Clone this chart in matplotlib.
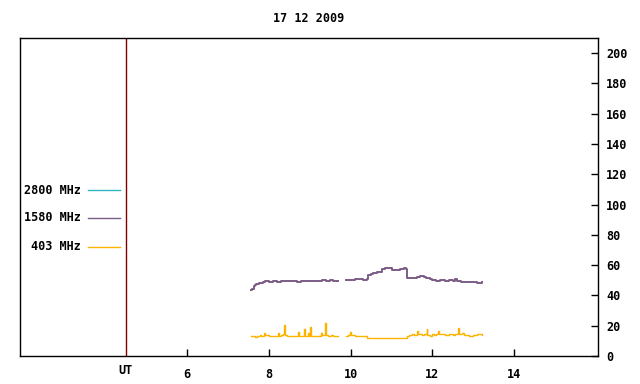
import matplotlib
matplotlib.use("Agg")
import matplotlib.pyplot as plt
import matplotlib.transforms as mtransforms
import numpy as np

plt.rcParams['font.family'] = ['DejaVu Sans Mono']
plt.rcParams['font.weight'] = 'bold'
plt.rcParams['font.size'] = 8.5

title = "17 12 2009"
labels = ["2800 MHz", "1580 MHz", "403 MHz"]
colors = ["#30b4c2", "#7b5c86", "#fbb400"]

# 1580 MHz (two segments, nan = gap)
t1580 = [7.57, 7.60, 7.63, 7.66, 7.70, 7.75, 7.80, 7.85, 7.90, 8.00, 8.10, 8.20,
         8.30, 8.40, 8.50, 8.60, 8.70, 8.80, 8.90, 9.00, 9.10, 9.20, 9.30, 9.40,
         9.50, 9.57, 9.70,
         9.89, 9.95, 10.00, 10.10, 10.20, 10.30, 10.40, 10.42, 10.50, 10.55, 10.60,
         10.65, 10.70, 10.77, 10.85, 10.95, 11.02, 11.10, 11.20, 11.30, 11.36, 11.38,
         11.45, 11.55, 11.63, 11.70, 11.80, 11.85, 11.95, 12.00, 12.10, 12.20, 12.30,
         12.40, 12.50, 12.56, 12.60, 12.70, 12.80, 12.90, 13.00, 13.10, 13.22]
v1580 = [43.5, 44.5, 46.0, 47.0, 47.5, 48.0, 48.5, 49.0, 49.3, 49.0, 49.5, 49.0,
         49.4, 49.8, 49.2, 49.5, 49.0, 49.6, 49.8, 49.5, 49.8, 49.6, 49.9, 49.7,
         49.9, 49.8, np.nan,
         50.2, 50.5, 50.3, 50.6, 50.8, 50.5, 51.0, 53.5, 54.0, 54.7, 54.7,
         55.5, 55.8, 57.5, 57.8, 57.8, 57.0, 56.8, 57.4, 57.8, 57.4, 51.5,
         51.2, 51.3, 52.3, 52.6, 52.0, 51.6, 51.0, 50.0, 49.8, 50.2, 49.7,
         50.0, 49.8, 50.8, 49.2, 48.7, 48.6, 48.8, 48.6, 48.4, 48.8]

# 403 MHz
t403 = [7.57, 7.62, 7.66, 7.72, 7.78, 7.82, 7.89, 7.91, 7.95, 8.00, 8.05, 8.10,
        8.15, 8.23, 8.25, 8.30, 8.36, 8.38, 8.40, 8.45, 8.50, 8.60, 8.70, 8.72,
        8.74, 8.80, 8.86, 8.88, 8.92, 8.96, 8.98, 9.01, 9.03, 9.10, 9.20, 9.28,
        9.30, 9.38, 9.40, 9.45, 9.50, 9.53, 9.57, 9.70,
        9.89, 9.95, 9.99, 10.01, 10.10, 10.20, 10.30, 10.36, 10.40, 10.50, 10.60,
        10.70, 10.80, 10.90, 11.00, 11.10, 11.20, 11.30, 11.38, 11.42, 11.50, 11.55,
        11.62, 11.64, 11.70, 11.75, 11.80, 11.86, 11.88, 11.95, 12.00, 12.05, 12.10,
        12.15, 12.17, 12.25, 12.30, 12.40, 12.50, 12.55, 12.64, 12.66, 12.72, 12.78,
        12.85, 12.90, 13.00, 13.10, 13.22]
v403 = [13.3, 13.0, 12.4, 13.0, 13.6, 13.2, 15.0, 13.8, 14.0, 13.4, 13.0, 13.5,
        13.2, 15.0, 13.3, 13.6, 14.2, 20.5, 14.0, 13.5, 13.2, 13.3, 13.4, 16.0,
        13.4, 13.3, 17.9, 13.2, 13.4, 15.5, 13.3, 19.2, 13.5, 13.5, 13.5, 15.2,
        13.6, 21.9, 13.6, 13.0, 13.0, 13.6, 13.5, np.nan,
        13.5, 13.8, 15.7, 13.6, 13.5, 13.5, 13.2, 13.0, 11.7, 11.8, 11.7,
        12.1, 11.7, 11.9, 11.7, 11.8, 11.7, 11.7, 13.2, 13.9, 14.2, 13.8,
        16.5, 14.2, 14.5, 13.8, 14.2, 17.9, 14.0, 13.5, 14.4, 14.0, 14.6,
        16.5, 14.2, 14.5, 14.0, 14.4, 14.0, 14.6, 18.8, 14.2, 15.0, 13.6,
        14.0, 13.5, 13.8, 14.2, 14.0]

xticks = [6, 8, 10, 12, 14]
yticks = [0, 20, 40, 60, 80, 100, 120, 140, 160, 180, 200]
ut_pos = 4.5

fig = plt.figure(figsize=(6.4, 3.84), dpi=100)
ax = fig.add_axes([20 / 640, 28 / 384, 578 / 640, 318 / 384])

ax.plot(t1580, v1580, color=colors[1], lw=1.4, drawstyle='steps-post')
ax.plot(t403, v403, color=colors[2], lw=1.0, drawstyle='steps-post')
ax.axvline(ut_pos, color='#800000', lw=1.0)

ax.set_xlim(1.914, 16.055)
ax.set_ylim(0, 210)
ax.set_xticks(xticks)
ax.set_xticklabels([str(x) for x in xticks])
ax.yaxis.tick_right()
ax.set_yticks(yticks)
ax.tick_params(axis='both', direction='in', length=5, width=1, pad=9)
ax.tick_params(axis='y', pad=6)
for s in ax.spines.values():
    s.set_linewidth(1)

trans = mtransforms.blended_transform_factory(ax.transData, ax.transAxes)
ax.text(ut_pos, -0.025, "UT", transform=trans, ha='center', va='top')

# legend on the left side
leg_y = [0.522, 0.434, 0.343]
for lab, col, yy in zip(labels, colors, leg_y):
    ax.text(0.105, yy, lab, transform=ax.transAxes, ha='right', va='center')
    ax.plot([0.118, 0.173], [yy, yy], color=col, lw=1.0, transform=ax.transAxes)

fig.text(309 / 640, 1 - 19 / 384, title, ha='center', va='center')

fig.savefig("out.png", dpi=100)
